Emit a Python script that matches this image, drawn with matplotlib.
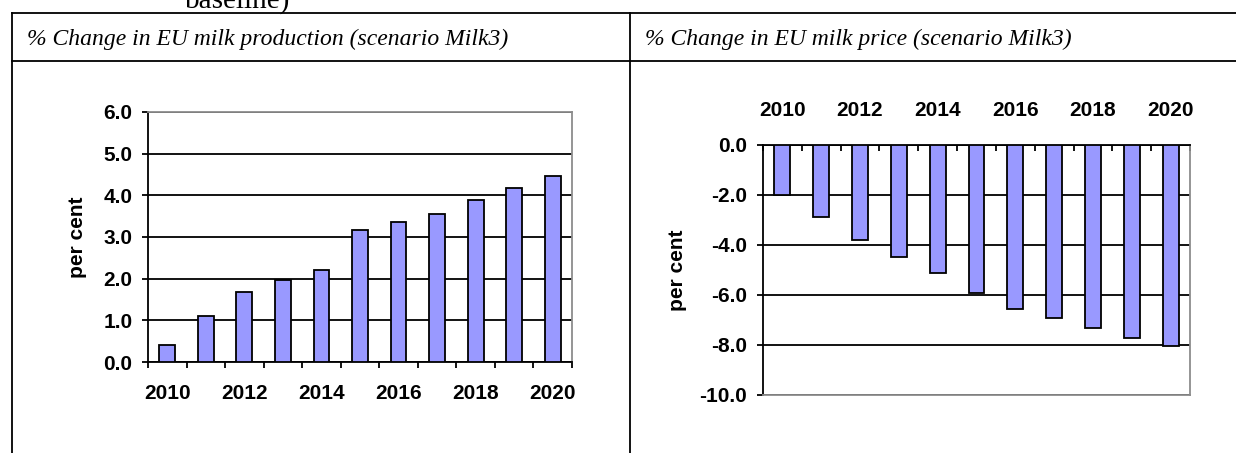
import matplotlib
matplotlib.use("Agg")
import matplotlib.pyplot as plt
import numpy as np

plt.rcParams['font.family'] = 'Liberation Sans'

years = list(range(2010, 2021))
year_labels = ["2010", "2012", "2014", "2016", "2018", "2020"]
production = [0.42, 1.10, 1.68, 1.98, 2.20, 3.17, 3.36, 3.55, 3.89, 4.18, 4.46]
price = [-2.0, -2.88, -3.78, -4.48, -5.13, -5.93, -6.57, -6.91, -7.30, -7.70, -8.02]

title_left = "% Change in EU milk production (scenario Milk3)"
title_right = "% Change in EU milk price (scenario Milk3)"

W, H = 1236, 453
fig = plt.figure(figsize=(W / 100, H / 100), dpi=100)

# table frame drawn in pixel coordinates
bg = fig.add_axes([0, 0, 1, 1], zorder=0)
bg.set_xlim(0, W)
bg.set_ylim(H, 0)
bg.axis('off')
lw_tab = 1.3
bg.plot([12, W], [13, 13], color='black', lw=lw_tab)
bg.plot([12, W], [61, 61], color='black', lw=lw_tab)
bg.plot([12, 12], [13, H], color='black', lw=lw_tab)
bg.plot([630, 630], [13, H], color='black', lw=lw_tab)
bg.text(185, 8, "baseline)", family='Liberation Serif', fontsize=21, va='baseline')
bg.text(27, 45, title_left, family='Liberation Serif', style='italic', fontsize=17, va='baseline')
bg.text(645, 45, title_right, family='Liberation Serif', style='italic', fontsize=17, va='baseline')

bar_color = '#9999FF'
x = np.arange(len(years))
fs = 15
lw = 1.3


def style_axis(ax, xtop):
    ax.set_xlim(-0.5, len(years) - 0.5)
    ax.set_xticks(x[::2])
    ax.set_xticklabels(year_labels, fontsize=fs, fontweight='bold')
    ax.set_xticks(np.arange(-0.5, len(years)), minor=True)
    ax.tick_params(axis='x', which='major', length=0, pad=16 if not xtop else 18)
    ax.tick_params(axis='x', which='minor', length=4.3, width=lw,
                   direction='in' if xtop else 'out')
    ax.tick_params(axis='y', length=4.3, width=lw, pad=7, labelsize=fs)
    for lab in ax.get_yticklabels():
        lab.set_fontweight('bold')
    ax.yaxis.grid(True, color='black', lw=lw)
    ax.set_axisbelow(True)
    ax.spines['left'].set_color('black')
    ax.spines['right'].set_color('#8c8c8c')
    if xtop:
        ax.xaxis.tick_top()
        ax.spines['top'].set_color('black')
        ax.spines['bottom'].set_color('#8c8c8c')
    else:
        ax.spines['bottom'].set_color('black')
        ax.spines['top'].set_color('#8c8c8c')
    for s in ax.spines.values():
        s.set_linewidth(lw)


# left chart
ax1 = fig.add_axes([148 / W, 1 - 362 / H, 424 / W, 250 / H], zorder=2)
ax1.bar(x, production, width=0.41, color=bar_color, edgecolor='black', linewidth=lw, zorder=3)
ax1.set_ylim(0, 6)
ax1.set_yticks(np.arange(0, 6.01, 1.0))
ax1.set_yticklabels(["%.1f" % v for v in np.arange(0, 6.01, 1.0)])
style_axis(ax1, xtop=False)
ax1.set_ylabel("per cent", fontsize=fs, fontweight='bold')
ax1.yaxis.set_label_coords((87 - 148) / 424, 0.5)

# right chart
ax2 = fig.add_axes([763 / W, 1 - 395 / H, 427 / W, 250 / H], zorder=2)
ax2.bar(x, price, width=0.41, color=bar_color, edgecolor='black', linewidth=lw, zorder=3)
ax2.set_ylim(-10, 0)
ax2.set_yticks(np.arange(-10, 0.01, 2.0))
ax2.set_yticklabels(["%.1f" % v for v in np.arange(-10, 0.01, 2.0)])
style_axis(ax2, xtop=True)
ax2.set_ylabel("per cent", fontsize=fs, fontweight='bold')
ax2.yaxis.set_label_coords((687 - 763) / 427, 0.5)

fig.savefig("out.png", dpi=100)
